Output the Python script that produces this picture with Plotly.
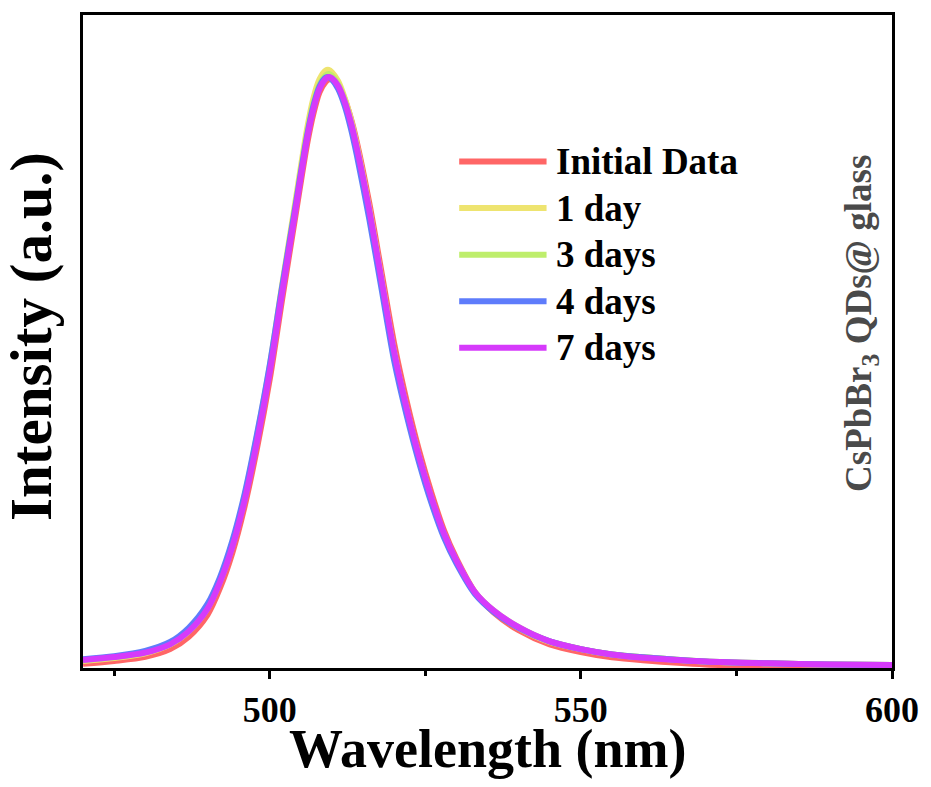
import plotly.graph_objects as go

# ---- data ----
wavelength = [470, 475, 480, 484, 487, 490, 492, 494, 496, 498, 500, 502, 504, 506, 507, 508, 509, 509.5,
              510, 511, 512, 513, 514, 516, 518, 520, 522, 524, 526, 528, 530, 533, 536, 540, 545, 550,
              555, 560, 570, 580, 590, 600]

initial_data = [0.007, 0.012, 0.019, 0.032, 0.053, 0.090, 0.135, 0.195, 0.275, 0.374, 0.488, 0.624, 0.756,
                0.886, 0.937, 0.974, 0.992, 0.996, 0.996, 0.986, 0.964, 0.932, 0.890, 0.787, 0.668, 0.549,
                0.452, 0.368, 0.296, 0.233, 0.185, 0.128, 0.094, 0.064, 0.040, 0.027, 0.018, 0.013, 0.006,
                0.004, 0.003, 0.002]
day1 = [0.012, 0.017, 0.025, 0.040, 0.063, 0.102, 0.148, 0.210, 0.292, 0.395, 0.510, 0.648, 0.780, 0.912,
        0.963, 0.996, 1.011, 1.012, 1.008, 0.993, 0.966, 0.930, 0.884, 0.777, 0.656, 0.534, 0.438, 0.356,
        0.285, 0.226, 0.180, 0.127, 0.096, 0.068, 0.044, 0.032, 0.023, 0.018, 0.011, 0.008, 0.006, 0.005]
day3 = [0.013, 0.018, 0.026, 0.040, 0.062, 0.101, 0.146, 0.207, 0.288, 0.390, 0.505, 0.642, 0.772, 0.902,
        0.953, 0.987, 1.003, 1.005, 1.002, 0.988, 0.962, 0.927, 0.881, 0.774, 0.653, 0.532, 0.437, 0.356,
        0.286, 0.226, 0.181, 0.127, 0.097, 0.069, 0.045, 0.032, 0.023, 0.018, 0.011, 0.008, 0.006, 0.005]
day4 = [0.015, 0.020, 0.029, 0.044, 0.068, 0.108, 0.153, 0.215, 0.296, 0.398, 0.512, 0.645, 0.772, 0.900,
        0.950, 0.984, 0.999, 1.000, 0.996, 0.980, 0.953, 0.915, 0.868, 0.760, 0.640, 0.520, 0.428, 0.348,
        0.279, 0.221, 0.177, 0.125, 0.095, 0.068, 0.045, 0.032, 0.023, 0.018, 0.011, 0.008, 0.006, 0.005]
day7 = [0.0135, 0.0185, 0.026, 0.040, 0.062, 0.100, 0.145, 0.205, 0.285, 0.385, 0.500, 0.635, 0.765, 0.895,
        0.945, 0.980, 0.997, 1.000, 0.998, 0.985, 0.960, 0.925, 0.880, 0.775, 0.655, 0.535, 0.440, 0.358,
        0.288, 0.228, 0.182, 0.128, 0.097, 0.069, 0.045, 0.032, 0.023, 0.0175, 0.011, 0.008, 0.006, 0.005]

series_names = ["Initial Data", "1 day", "3 days", "4 days", "7 days"]
series_values = [initial_data, day1, day3, day4, day7]
series_colors = ["#FF6666", "#EEE470", "#BEEE6C", "#5E7CFB", "#D63AFB"]

x_tickvals = [500, 550, 600]
x_ticktext = ["500", "550", "600"]

FONT = "Liberation Serif, Times New Roman, serif"

fig = go.Figure()
for name, vals, col in zip(series_names, series_values, series_colors):
    fig.add_trace(go.Scatter(x=wavelength, y=vals, mode="lines", name=name,
                             line=dict(color=col, width=6, shape="spline", smoothing=0.8),
                             showlegend=False))

# custom legend (long line samples)
leg_x0, leg_x1, leg_tx = 0.465, 0.573, 0.5816
leg_y_top, leg_step = 0.7756, 0.0713
for i, (name, col) in enumerate(zip(series_names, series_colors)):
    yy = leg_y_top - i * leg_step
    fig.add_shape(type="line", xref="paper", yref="paper", x0=leg_x0, x1=leg_x1, y0=yy, y1=yy,
                  line=dict(color=col, width=6), layer="above")
    fig.add_annotation(xref="paper", yref="paper", x=leg_tx, y=yy, xanchor="left", yanchor="middle",
                       text="<b>%s</b>" % name, showarrow=False,
                       font=dict(family=FONT, size=37, color="black"))

# axis titles
fig.add_annotation(xref="paper", yref="paper", x=0.5, y=-0.124, xanchor="center", yanchor="middle",
                   text="<b>Wavelength (nm)</b>", showarrow=False,
                   font=dict(family=FONT, size=54, color="black"))
fig.add_annotation(xref="paper", yref="paper", x=-0.021, y=0.507, xanchor="right", yanchor="middle",
                   text="<b>Intensity (a.u.)</b>", textangle=-90, showarrow=False,
                   font=dict(family=FONT, size=59, color="black"))
# sample label
fig.add_annotation(xref="paper", yref="paper", x=0.963, y=0.527, xanchor="center", yanchor="middle",
                   text="<b>CsPbBr<sub>3</sub> QDs@ glass</b>", textangle=-90, showarrow=False,
                   font=dict(family=FONT, size=37, color="#4a4a4a"))

fig.update_layout(
    width=931, height=787,
    margin=dict(l=83, r=33, t=13, b=119),
    paper_bgcolor="white", plot_bgcolor="white",
    showlegend=False,
)
fig.update_xaxes(range=[470, 600], showgrid=False, zeroline=False,
                 showline=True, linecolor="black", linewidth=3, mirror=True,
                 ticks="outside", ticklen=8, tickwidth=3, tickcolor="black",
                 tickvals=x_tickvals, ticktext=x_ticktext,
                 tickfont=dict(family=FONT, size=36, color="black", weight="bold"),
                 minor=dict(tickvals=[475, 525, 575], ticks="outside", ticklen=5, tickwidth=3, tickcolor="black"))
fig.update_yaxes(range=[0, 1.105], showgrid=False, zeroline=False,
                 showline=True, linecolor="black", linewidth=3, mirror=True,
                 ticks="", showticklabels=False)

fig.write_html("out.html")
